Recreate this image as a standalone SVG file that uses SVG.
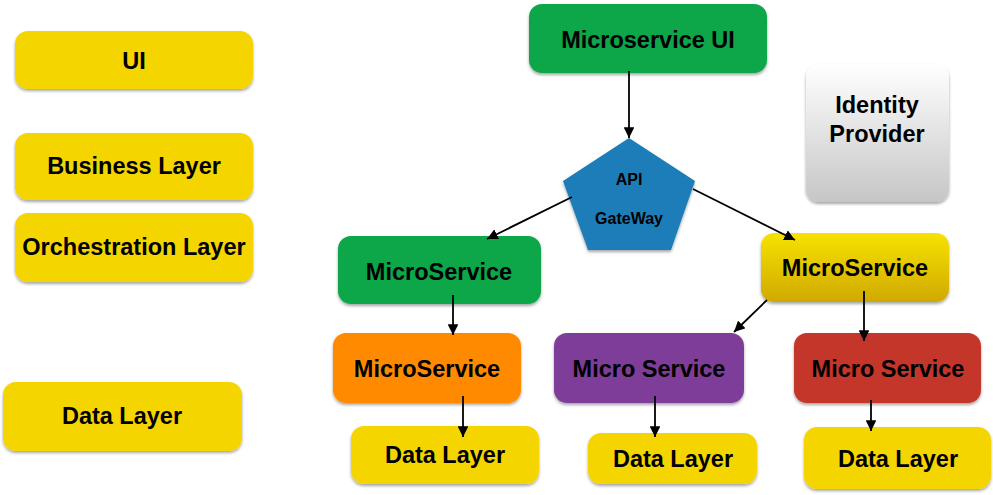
<svg xmlns="http://www.w3.org/2000/svg" width="993" height="495" viewBox="0 0 993 495">
<style>
  text { font-family: "Liberation Sans", Arial, sans-serif; font-weight: bold; fill: #000; text-anchor: middle; }
  .lbl { font-size: 23.5px; }
  .small { font-size: 16px; }
  .box { filter: url(#shadow); }
  .layer { fill: #F5D500; }
  .conn { stroke: #000; stroke-width: 1.8; fill: none; marker-end: url(#arrow); }
</style>
<defs>
  <filter id="shadow" x="-10%" y="-10%" width="120%" height="130%">
    <feDropShadow dx="0" dy="2" stdDeviation="1.8" flood-color="#000" flood-opacity="0.35"/>
  </filter>
  <linearGradient id="idp" x1="0" y1="0" x2="0" y2="1">
    <stop offset="0" stop-color="#FFFFFF"/>
    <stop offset="1" stop-color="#C6C6C6"/>
  </linearGradient>
  <linearGradient id="ygrad" x1="0" y1="0" x2="0" y2="1">
    <stop offset="0" stop-color="#F7E200"/>
    <stop offset="1" stop-color="#D0A900"/>
  </linearGradient>
  <marker id="arrow" viewBox="0 0 10 10" refX="10" refY="5" markerWidth="6" markerHeight="6" markerUnits="strokeWidth" orient="auto">
    <path d="M0,0 L10,5 L0,10 z" fill="#000"/>
  </marker>
</defs>

<g id="layer-ui"><rect class="box layer" x="15" y="31" width="238" height="58" rx="13"/><text class="lbl" x="134" y="69">UI</text></g>
<g id="layer-business"><rect class="box layer" x="15" y="133" width="238" height="67" rx="13"/><text class="lbl" x="134" y="174">Business Layer</text></g>
<g id="layer-orchestration"><rect class="box layer" x="15" y="213" width="238" height="69" rx="13"/><text class="lbl" x="134" y="255">Orchestration Layer</text></g>
<g id="layer-data"><rect class="box layer" x="3" y="382" width="239" height="69" rx="13"/><text class="lbl" x="122" y="424">Data Layer</text></g>

<g id="microservice-ui"><rect class="box" x="529" y="4" width="238" height="69" rx="13" fill="#0AA64A"/><text class="lbl" x="648" y="48">Microservice UI</text></g>
<g id="identity-provider"><rect class="box" x="806" y="64" width="143" height="138" rx="13" fill="url(#idp)"/><text class="lbl" x="877" y="113">Identity</text><text class="lbl" x="877" y="142">Provider</text></g>
<g id="api-gateway"><polygon class="box" points="629,138 695,181 671,250 588,250 563,181" fill="#1A7DB8"/><text class="small" x="629" y="185">API</text><text class="small" x="629" y="224">GateWay</text></g>

<g id="ms-green"><rect class="box" x="338" y="236" width="203" height="68" rx="13" fill="#0AA64A"/><text class="lbl" x="439" y="280">MicroService</text></g>
<g id="ms-yellow"><rect class="box" x="761" y="233" width="188" height="69" rx="13" fill="url(#ygrad)"/><text class="lbl" x="855" y="276">MicroService</text></g>
<g id="ms-orange"><rect class="box" x="333" y="333" width="188" height="70" rx="13" fill="#FF8A00"/><text class="lbl" x="427" y="377">MicroService</text></g>
<g id="ms-purple"><rect class="box" x="554" y="333" width="190" height="70" rx="13" fill="#7D3D98"/><text class="lbl" x="649" y="377">Micro Service</text></g>
<g id="ms-red"><rect class="box" x="794" y="333" width="187" height="70" rx="13" fill="#C4342A"/><text class="lbl" x="888" y="377">Micro Service</text></g>

<g id="data-1"><rect class="box layer" x="351" y="426" width="188" height="58" rx="13"/><text class="lbl" x="445" y="463">Data Layer</text></g>
<g id="data-2"><rect class="box layer" x="588" y="433" width="169" height="51" rx="13"/><text class="lbl" x="673" y="467">Data Layer</text></g>
<g id="data-3"><rect class="box layer" x="804" y="427" width="187" height="62" rx="13"/><text class="lbl" x="898" y="467">Data Layer</text></g>

<g id="connectors">
  <line class="conn" x1="629" y1="71" x2="629" y2="138"/>
  <line class="conn" x1="572" y1="197" x2="487" y2="239"/>
  <line class="conn" x1="693" y1="189" x2="795" y2="240"/>
  <line class="conn" x1="453" y1="295" x2="453" y2="335"/>
  <line class="conn" x1="767" y1="300" x2="734" y2="332"/>
  <line class="conn" x1="864" y1="291" x2="864" y2="341"/>
  <line class="conn" x1="463" y1="396" x2="463" y2="437"/>
  <line class="conn" x1="655" y1="396" x2="655" y2="437"/>
  <line class="conn" x1="871" y1="400" x2="871" y2="431"/>
</g>
</svg>
